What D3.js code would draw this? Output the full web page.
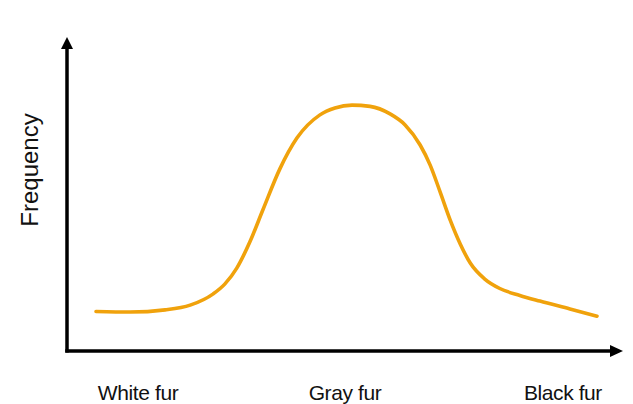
<!DOCTYPE html>
<html>
<head>
<meta charset="utf-8">
<script src="https://cdn.jsdelivr.net/npm/d3@7"></script>
<style>
  html, body { margin: 0; padding: 0; background: #fff; }
  svg { display: block; }
</style>
</head>
<body>
<div id="chart"></div>
<script>
// ---- Data ----
// Fur colour position along the x axis (0 = whitest, 100 = blackest)
const furPosition = [0, 6.8, 13.8, 18.8, 23.4, 25.7, 28.1, 30.7, 33.3, 36.7, 40.1, 44.7, 47.7, 51.1, 54.7, 58.7, 61.7, 64.7, 66.7, 68.7, 70.7, 72.7, 74.7, 77.6, 80.6, 84.6, 88.6, 94.6, 100];
// Relative frequency at each position
const frequency   = [12.6, 12.4, 13.1, 14.6, 18.2, 21.3, 26.4, 34.7, 44.9, 58.0, 67.8, 75.2, 77.4, 78.3, 77.9, 75.5, 72.0, 65.6, 59.2, 50.6, 41.7, 34.1, 28.0, 22.9, 19.9, 17.7, 15.9, 13.4, 11.1];
// Category labels under the x axis and where they sit
const categoryLabels = ["White fur", "Gray fur", "Black fur"];
const categoryPositions = [8.4, 49.7, 93.2];
const yAxisTitle = "Frequency";

// ---- Layout ----
const width = 633, height = 404;
const axisX = 67, axisY = 351;
const xArrowTip = 623, yArrowTip = 37;

const svg = d3.select("#chart").append("svg")
  .attr("width", width).attr("height", height);

const x = d3.scaleLinear().domain([0, 100]).range([96, 597]);
const y = d3.scaleLinear().domain([0, 100]).range([axisY, yArrowTip]);

// ---- Axes with arrowheads ----
const axisColor = "#000";
svg.append("line")
  .attr("x1", axisX).attr("y1", axisY + 1.5)
  .attr("x2", axisX).attr("y2", yArrowTip + 8)
  .attr("stroke", axisColor).attr("stroke-width", 3.5);
svg.append("line")
  .attr("x1", axisX - 1.75).attr("y1", axisY)
  .attr("x2", xArrowTip - 8).attr("y2", axisY)
  .attr("stroke", axisColor).attr("stroke-width", 3.5);

svg.append("path")
  .attr("d", `M${axisX},${yArrowTip} L${axisX - 6},${yArrowTip + 12} L${axisX + 6},${yArrowTip + 12} Z`)
  .attr("fill", axisColor);
svg.append("path")
  .attr("d", `M${xArrowTip},${axisY} L${xArrowTip - 13},${axisY - 6} L${xArrowTip - 13},${axisY + 6} Z`)
  .attr("fill", axisColor);

// ---- Curve ----
const pts = furPosition.map((p, i) => [p, frequency[i]]);
const line = d3.line()
  .x(d => x(d[0]))
  .y(d => y(d[1]))
  .curve(d3.curveMonotoneX);

svg.append("path")
  .datum(pts)
  .attr("d", line)
  .attr("fill", "none")
  .attr("stroke", "#f0a20c")
  .attr("stroke-width", 3.6)
  .attr("stroke-linecap", "round")
  .attr("stroke-linejoin", "round");

// ---- Labels ----
svg.selectAll("text.cat")
  .data(categoryLabels)
  .join("text")
  .attr("class", "cat")
  .attr("x", (d, i) => x(categoryPositions[i]))
  .attr("y", 400)
  .attr("text-anchor", "middle")
  .attr("font-family", "Liberation Sans, Arial, sans-serif")
  .attr("font-size", 21)
  .attr("letter-spacing", -0.4)
  .attr("fill", "#111")
  .text(d => d);

svg.append("text")
  .attr("transform", `translate(38, 170) rotate(-90)`)
  .attr("text-anchor", "middle")
  .attr("font-family", "Liberation Sans, Arial, sans-serif")
  .attr("font-size", 24)
  .attr("fill", "#111")
  .text(yAxisTitle);
</script>
</body>
</html>
